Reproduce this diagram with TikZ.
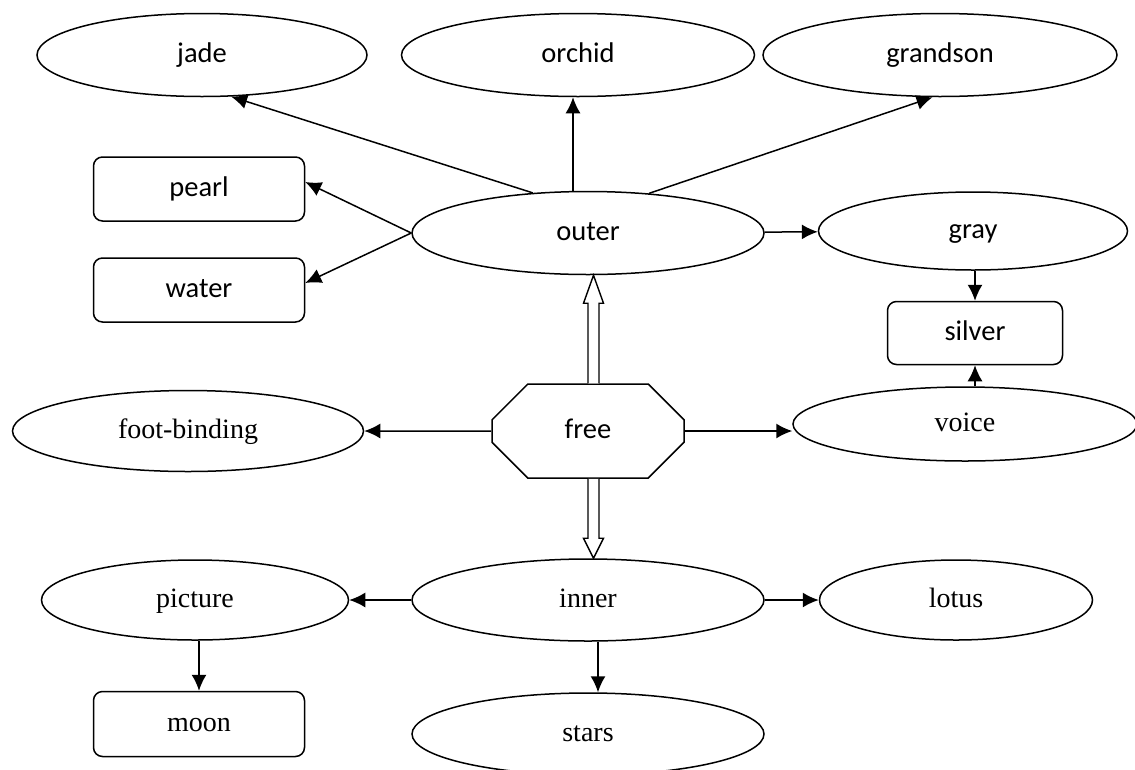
\documentclass[tikz,border=0pt]{standalone}
\usepackage{fontspec}
\setmainfont{Liberation Serif}
\newfontfamily\calib{Carlito}
\usepackage{tikz}
\usetikzlibrary{arrows.meta}
\usetikzlibrary{calc}
\usetikzlibrary{shapes.geometric}
\usetikzlibrary{shapes.misc}

\tikzset{
  oval/.style={shape=ellipse, draw=black, line width=1.5pt, inner sep=0pt, text height=20pt, text depth=5pt, font=\fontsize{28}{32}\selectfont},
  sansoval/.style={oval, font=\fontsize{28.5}{32}\selectfont\calib},
  box/.style={shape=rectangle, rounded corners=9pt, draw=black, line width=1.5pt, inner sep=0pt, text height=20pt, text depth=5pt, font=\fontsize{28.5}{32}\selectfont\calib},
  serifbox/.style={box, font=\fontsize{28}{32}\selectfont},
  arr/.style={->, >={Latex[length=16pt,width=15pt]}, line width=1.5pt},
  hollow/.style={draw=black, fill=white, line width=1.4pt, line join=miter},
}

\begin{document}
\begin{tikzpicture}
\useasboundingbox (0pt,0pt) rectangle (1135pt,-769pt);
% top row
\node[sansoval, minimum width=330pt, minimum height=83pt] (jade) at (202pt,-55pt) {jade};
\node[sansoval, minimum width=353pt, minimum height=83pt] (orchid) at (578pt,-55pt) {orchid};
\node[sansoval, minimum width=354pt, minimum height=83pt] (grandson) at (940pt,-55pt) {grandson};
% outer part
\node[box, minimum width=211pt, minimum height=64pt] (pearl) at (199pt,-189pt) {pearl};
\node[box, minimum width=211pt, minimum height=64pt] (water) at (199pt,-290pt) {water};
\node[sansoval, minimum width=352pt, minimum height=83pt] (outer) at (588pt,-233pt) {outer};
\node[sansoval, minimum width=309pt, minimum height=78pt] (gray) at (973pt,-231pt) {gray};
\node[box, minimum width=175pt, minimum height=63pt] (silver) at (975pt,-333pt) {silver};
% middle row
\node[shape=chamfered rectangle, chamfered rectangle xsep=27pt, chamfered rectangle ysep=27pt,
      minimum width=192pt, minimum height=94pt, inner sep=0pt, draw=black, line width=1.5pt,
      text height=20pt, text depth=5pt, font=\fontsize{28.5}{32}\selectfont\calib] (free) at (588pt,-431pt) {free};
\node[oval, minimum width=351pt, minimum height=81pt] (foot) at (188pt,-431pt) {foot-binding};
\node[oval, minimum width=344pt, minimum height=74pt] (voice) at (965pt,-424pt) {voice};
% inner part
\node[oval, minimum width=352pt, minimum height=82pt] (inner) at (588pt,-600pt) {inner};
\node[oval, minimum width=307pt, minimum height=80pt] (picture) at (195pt,-600pt) {picture};
\node[oval, minimum width=273pt, minimum height=80pt] (lotus) at (956pt,-600pt) {lotus};
\node[serifbox, minimum width=211pt, minimum height=65pt] (moon) at (199pt,-724pt) {moon};
\node[oval, minimum width=352pt, minimum height=82pt] (stars) at (588pt,-734pt) {stars};

% arrows from outer
\draw[arr] (outer.144) -- (jade.-55);
\draw[arr] ([xshift=-15pt]outer.north) -- ([xshift=-15pt]outer.north |- orchid.south);
\draw[arr] (outer.33) -- (grandson.260);
\draw[arr] (outer.west) -- ([yshift=7pt]pearl.east);
\draw[arr] (outer.west) -- ([yshift=7pt]water.east);
\draw[arr] (outer) -- (gray);
\draw[arr] (gray.south -| silver) -- (silver);
\draw[arr] (silver |- voice.north) -- (silver);
% arrows from free
\draw[arr] (free) -- (foot);
\draw[arr] (free.east) -- (free.east -| voice.west);
\coordinate (ua) at ($(free.north)+(5.5pt,0)$);
\coordinate (ub) at (ua |- outer.south);
\draw[hollow] ($(ua)+(-5.5pt,0)$) -- ($(ub)+(-5.5pt,-28pt)$) -- ($(ub)+(-10pt,-28pt)$) -- (ub)
  -- ($(ub)+(10pt,-28pt)$) -- ($(ub)+(5.5pt,-28pt)$) -- ($(ua)+(5.5pt,0)$);
\coordinate (da) at ($(free.south)+(5.5pt,0)$);
\coordinate (db) at (da |- inner.north);
\draw[hollow] ($(da)+(-5.5pt,0)$) -- ($(db)+(-5.5pt,20pt)$) -- ($(db)+(-10pt,20pt)$) -- (db)
  -- ($(db)+(10pt,20pt)$) -- ($(db)+(5.5pt,20pt)$) -- ($(da)+(5.5pt,0)$);
% arrows from inner
\draw[arr] (inner) -- (picture);
\draw[arr] (inner) -- (lotus);
\draw[arr] ([xshift=10pt]inner.south) -- ([xshift=10pt]stars.north);
\draw[arr] (picture.south -| moon) -- (moon);

\end{tikzpicture}
\end{document}
